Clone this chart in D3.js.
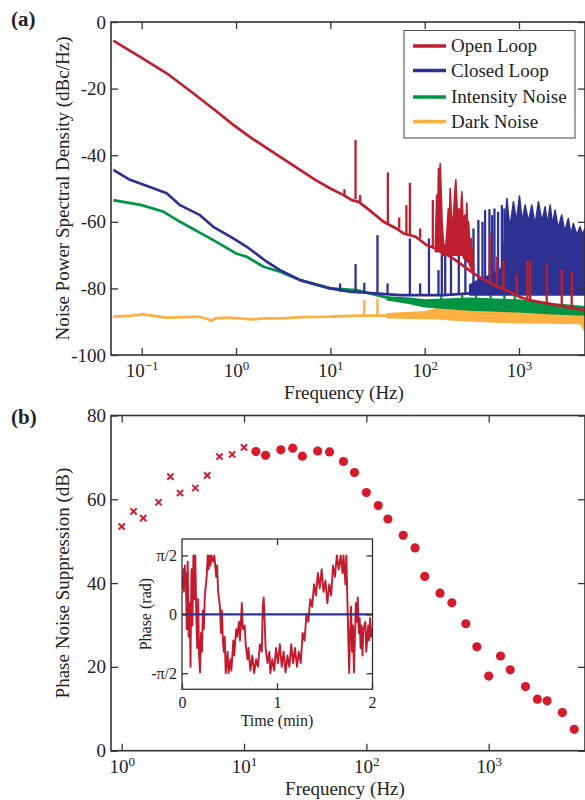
<!DOCTYPE html>
<html><head><meta charset="utf-8">
<script src="https://cdn.jsdelivr.net/npm/d3@7"></script>
<style>
html,body{margin:0;padding:0;background:#fff;}
svg{display:block;font-family:"Liberation Serif","Times New Roman",serif;}
</style></head><body>
<svg id="fig" width="585" height="800"></svg>
<script>
// ---------- (a) noise power spectral density, dBc/Hz ----------
// smooth traces: [frequency Hz, dB]
const openLoopBase = [[0.05,-5.6],[0.1,-10.8],[0.184,-15.4],[0.352,-21.4],[0.6,-26.5],[0.936,-30.9],[1.4,-34.5],[2.12,-37.9],[3.2,-41.2],[4.77,-44.4],[7,-47.5],[10,-50],[13.8,-52],[16.9,-53.5],[20,-54],[24.4,-55.9],[36.6,-60],[50,-62],[59.7,-63.5],[80,-64.5],[105,-67],[130,-68],[200,-71],[330,-75.5],[400,-77],[500,-78.5],[600,-79.5],[800,-81],[1000,-82.5],[1300,-83.5],[1600,-84],[2000,-84.5],[3000,-85.5],[5000,-86.5]];
// dense regions: [frequency Hz, lower dB, upper dB]
const openLoopBand = [[130,-69,-66],[134,-69,-52],[137,-69,-62],[140,-69,-44],[143,-69,-50],[146,-69,-42.5],[150,-69,-52],[153,-70,-60],[158,-70,-66],[165,-70,-69],[172,-70,-63],[178,-70,-56],[183,-70,-60],[186,-70,-50],[192,-70,-58],[198,-70,-62],[205,-70,-55],[210,-70,-50],[214,-70,-47.4],[220,-70,-55],[226,-70,-60],[232,-70,-56],[240,-70,-60],[245,-70,-53],[248,-70,-51],[254,-70,-58],[260,-71,-62],[266,-71,-58],[272,-71,-62],[280,-72,-54.4],[286,-72,-62],[292,-72,-60],[300,-73,-66],[310,-74,-65],[320,-74.5,-70],[330,-75.5,-73]];
// narrow lines: [frequency Hz, floor dB, peak dB]
const openLoopSpikes = [[14.1,-52.2,-50.2],[18.5,-53.2,-35.4],[20.7,-54,-52],[40.7,-60.5,-45.2],[53.7,-62,-58.7],[64,-63.8,-55],[69.7,-64,-48.3],[89.6,-65,-62],[122,-67.5,-53.5],[494,-78.5,-63.4],[582,-79,-70.5],[684,-80,-71.5],[948,-82,-75.5],[1228,-83,-72],[1312,-83.5,-71.5],[1968,-84.5,-72.5],[2837,-85.5,-74.5],[3620,-86,-75]];

const closedLoopBase = [[0.05,-44.4],[0.0751,-47.4],[0.12,-49.5],[0.184,-51.4],[0.255,-55],[0.415,-58],[0.574,-61.5],[0.936,-65],[1.3,-67.5],[2.12,-72],[2.93,-74.5],[4.77,-77.5],[9.93,-80],[16,-81],[30,-81.5],[55,-82],[100,-82],[160,-82],[300,-81.5]];
const closedLoopBand = [[300,-82,-79],[400,-82,-77],[500,-82,-76],[650,-82,-74],[700,-82,-66],[743,-82,-53],[800,-82,-62],[873,-82,-54],[940,-82,-60],[1011,-82,-52.3],[1080,-82,-60],[1161,-82,-55],[1260,-82,-60],[1367,-82,-55],[1480,-82,-61],[1607,-82,-54],[1750,-82,-60],[1892,-82,-55.5],[2000,-82,-61],[2138,-82,-55],[2270,-82,-61],[2412,-82,-56.5],[2600,-82,-62],[2837,-82,-58],[3050,-82,-63],[3334,-82,-59],[3550,-82,-64],[3767,-82,-60.5],[4100,-82,-64],[4437,-82,-61.5],[4700,-82,-64],[5000,-82,-62]];
const closedLoopSpikes = [[12.7,-81,-78.5],[18.5,-81,-72.7],[22.9,-81.5,-78.3],[31.6,-81.5,-64],[40.4,-81.5,-78.5],[69.7,-82,-65],[89.6,-82,-78.5],[111,-82,-65],[140,-82,-74.5],[152,-82,-61.5],[165,-82,-68.5],[190,-82,-66],[230,-82,-67],[270,-82,-64],[329,-79,-62],[371,-78,-59.5],[410,-78,-60],[437,-77,-56.5],[486,-77,-56.2],[520,-77,-58],[549,-76,-56],[600,-76,-57],[658,-75,-55],[700,-75,-56]];

const intensityBase = [[0.05,-53.5],[0.1,-55],[0.171,-57],[0.255,-60],[0.574,-65.5],[1.0,-69.5],[1.3,-70.5],[1.96,-73.5],[2.93,-75],[4.77,-77.5],[9.93,-80],[19,-80.5],[43,-83],[100,-84.5],[300,-85],[1000,-85.5],[2000,-86],[5000,-87]];
const intensityBand = [[40,-83.4,-82.6],[70,-84.5,-83],[100,-85.5,-83.5],[300,-86.5,-83],[1000,-87,-83.5],[2000,-87.5,-84.5],[5000,-88,-85.5]];
const intensitySpikes = [[150,-84.5,-82],[250,-84.5,-82],[350,-85,-81.5],[500,-85,-81.5],[700,-85,-82],[900,-85,-81]];

const darkBase = [[0.05,-88.5],[0.08,-88.2],[0.1,-87.8],[0.13,-88.2],[0.18,-88.8],[0.3,-88.6],[0.4,-88.5],[0.5,-89.2],[0.55,-89.8],[0.6,-89.0],[0.8,-88.8],[1,-88.9],[1.5,-89.3],[2,-89.0],[3,-89.0],[5,-88.6],[10,-88.5],[20,-88.2],[40,-88.2],[80,-88],[200,-87.8],[1000,-88],[4500,-88.5],[4900,-91]];
const darkBand = [[40,-88.8,-87.6],[100,-89,-87],[130,-89,-86.2],[200,-89.5,-85.8],[500,-90,-85.8],[1000,-90.3,-86.2],[2000,-90.4,-86.6],[4500,-90.5,-87],[4900,-92.5,-87]];
const darkSpikes = [[22.9,-88.2,-83.5],[31.6,-88.2,-83],[150,-87,-84],[201,-87,-84],[250,-87,-84.5],[371,-87,-84],[494,-87,-84],[603,-87,-84.5],[805,-87,-84],[986,-87,-84.5]];

const legendLabels = ["Open Loop","Closed Loop","Intensity Noise","Dark Noise"];
const psdXTicks = [0.1,1,10,100,1000];
const psdYTicks = [0,-20,-40,-60,-80,-100];

// ---------- (b) phase noise suppression, dB ----------
const crossFreq = [1,1.25,1.5,2,2.5,3,4,5,6.3,8,10];
const crossDb   = [53.5,57.1,55.5,59.3,65.4,61.5,62.7,65.7,70.2,70.7,72.4];
const circleFreq = [12.5,15,20,25,30,40,50,65,80,100,125,150,200,250,300,400,500,650,800,1000,1250,1500,2000,2500,3000,4000,5000];
const circleDb   = [71.4,70.5,71.8,72.2,70.3,71.5,71.3,69.0,66.4,61.6,58.5,55.3,51.4,48.4,41.6,37.6,35.3,30.3,24.8,17.8,22.6,19.3,15.3,12.3,11.9,9.1,5.1];
const suppXTicks = [1,10,100,1000];
const suppYTicks = [0,20,40,60,80];

// inset: phase (rad) vs time (min)
const freePhase = [[0,1.0],[0.01,0.7],[0.015,1.2],[0.02,0.6],[0.03,1.3],[0.035,0.8],[0.04,1.1],[0.05,-0.4],[0.055,0.9],[0.06,1.4],[0.07,-0.6],[0.08,0.3],[0.09,-1.4],[0.095,0.2],[0.1,1.2],[0.11,-0.3],[0.12,1.57],[0.13,0.4],[0.14,1.57],[0.15,0.0],[0.16,-0.9],[0.17,0.4],[0.18,-1.1],[0.19,-1.55],[0.2,-0.5],[0.21,-1.0],[0.22,0.1],[0.23,-0.4],[0.24,0.5],[0.26,1.0],[0.27,1.57],[0.28,1.2],[0.29,1.57],[0.3,1.3],[0.31,1.57],[0.33,1.4],[0.34,1.57],[0.36,1.0],[0.37,1.3],[0.38,0.6],[0.4,0.2],[0.41,-0.5],[0.42,0.1],[0.43,-0.7],[0.44,-1.0],[0.45,-0.6],[0.46,-1.57],[0.48,-1.0],[0.49,-1.57],[0.51,-1.2],[0.52,-1.5],[0.54,-0.7],[0.55,-1.1],[0.57,-0.4],[0.58,-0.6],[0.6,-0.2],[0.61,-0.7],[0.63,0.3],[0.64,-0.4],[0.66,-0.3],[0.67,-0.8],[0.69,-1.2],[0.7,-0.9],[0.72,-1.5],[0.74,-1.1],[0.76,-1.57],[0.78,-1.2],[0.8,-1.4],[0.82,-0.8],[0.84,-1.0],[0.85,0.2],[0.86,0.45],[0.87,-0.2],[0.88,-0.9],[0.9,-1.3],[0.92,-1.0],[0.93,-1.57],[0.95,-1.2],[0.97,-1.5],[0.99,-0.9],[1.01,-1.3],[1.03,-0.8],[1.05,-1.4],[1.07,-1.0],[1.09,-1.55],[1.11,-1.1],[1.13,-1.4],[1.15,-0.8],[1.17,-1.3],[1.19,-0.9],[1.21,-1.4],[1.23,-1.0],[1.25,-1.3],[1.27,-0.5],[1.29,-0.7],[1.31,0.0],[1.33,-0.2],[1.35,0.4],[1.37,0.2],[1.39,0.8],[1.41,0.5],[1.43,1.1],[1.45,0.7],[1.47,1.2],[1.49,0.6],[1.51,0.9],[1.53,0.3],[1.55,0.8],[1.57,0.5],[1.59,1.3],[1.61,1.0],[1.63,1.57],[1.65,1.2],[1.67,1.57],[1.69,1.1],[1.7,1.57],[1.72,0.8],[1.73,1.57],[1.74,0.5],[1.75,-0.6],[1.76,-1.57],[1.77,-0.4],[1.78,0.2],[1.79,-1.0],[1.8,-0.3],[1.81,-1.55],[1.82,-0.6],[1.83,0.3],[1.84,-0.2],[1.85,0.45],[1.86,-0.5],[1.87,-0.1],[1.88,-0.9],[1.89,-0.3],[1.9,-1.1],[1.91,-0.4],[1.93,-0.2],[1.94,-1.0],[1.96,-0.3],[1.97,-0.7],[1.98,-0.1],[1.99,-0.6],[2.0,-0.35]];
const lockedPhase = [[0,0],[2,0]];
const insetXTicks = [0,1,2];
const insetYTicks = [-Math.PI/2,0,Math.PI/2];
const insetYLabels = ["-\u03c0/2","0","\u03c0/2"];

// ---------- styling ----------
const C = {open:"#be1e2d", closed:"#2e3192", intensity:"#009444", dark:"#fbb040", pts:"#d51a2c", axis:"#333"};
const FONT = 19;
const SERIF = "Liberation Serif, Times New Roman, serif";

const svg = d3.select("#fig");
svg.append("rect").attr("width",585).attr("height",800).attr("fill","#fff");
const defs = svg.append("defs");

function clipRect(id, b){
  defs.append("clipPath").attr("id",id).append("rect")
    .attr("x",b.left).attr("y",b.top).attr("width",b.right-b.left).attr("height",b.bottom-b.top);
}
function styleAxis(g, size){
  g.attr("font-family",SERIF).attr("font-size",size||FONT);
  g.select(".domain").remove();
  g.selectAll(".tick line").attr("stroke",C.axis).attr("stroke-width",1.3);
  g.selectAll(".tick text").attr("font-size",size||FONT).attr("fill","#222");
}
function powerLabels(g){
  g.selectAll(".tick text").each(function(d){
    const e = Math.round(Math.log10(d));
    const t = d3.select(this);
    t.text(null);
    t.append("tspan").text("10");
    t.append("tspan").attr("dy","-0.55em").attr("font-size",13).text(e<0 ? "\u2212"+(-e) : String(e));
  });
}
function frame(b){
  svg.append("rect").attr("x",b.left).attr("y",b.top).attr("width",b.right-b.left).attr("height",b.bottom-b.top)
    .attr("fill","none").attr("stroke",C.axis).attr("stroke-width",1.6);
}

// ================= panel (a) =================
const A = {left:111,right:585,top:22,bottom:355};
const xA = d3.scaleLog().domain([0.1,1000]).range([141.7,519]);
const yA = d3.scaleLinear().domain([-100,0]).range([A.bottom,A.top]);
clipRect("clipA",A);
const gA = svg.append("g").attr("clip-path","url(#clipA)");

function drawTrace(g, x, y, base, band, spikes, color){
  const line = d3.line().x(d=>x(d[0])).y(d=>y(d[1]));
  g.append("path").datum(base).attr("d",line).attr("fill","none")
    .attr("stroke",color).attr("stroke-width",2.7).attr("stroke-linejoin","round");
  if(band){
    const area = d3.area().x(d=>x(d[0])).y0(d=>y(d[1])).y1(d=>y(d[2]));
    g.append("path").datum(band).attr("d",area).attr("fill",color)
      .attr("stroke",color).attr("stroke-width",1.6).attr("stroke-linejoin","round");
  }
  g.selectAll(null).data(spikes).join("line")
    .attr("x1",d=>x(d[0])).attr("x2",d=>x(d[0]))
    .attr("y1",d=>y(d[1])).attr("y2",d=>y(d[2]))
    .attr("stroke",color).attr("stroke-width",2.3);
}
drawTrace(gA,xA,yA,darkBase,darkBand,darkSpikes,C.dark);
drawTrace(gA,xA,yA,intensityBase,intensityBand,intensitySpikes,C.intensity);
drawTrace(gA,xA,yA,closedLoopBase,closedLoopBand,closedLoopSpikes,C.closed);
drawTrace(gA,xA,yA,openLoopBase,openLoopBand,openLoopSpikes,C.open);

frame(A);
svg.append("g").attr("transform",`translate(0,${A.bottom})`)
  .call(d3.axisBottom(xA).tickValues(psdXTicks).tickSize(-7).tickPadding(9))
  .call(styleAxis).call(powerLabels);
svg.append("g").attr("transform",`translate(0,${A.top})`)
  .call(d3.axisTop(xA).tickValues(psdXTicks).tickSize(-7).tickFormat(""))
  .call(styleAxis);
svg.append("g").attr("transform",`translate(${A.left},0)`)
  .call(d3.axisLeft(yA).tickValues(psdYTicks).tickSize(-7).tickPadding(5).tickFormat(d=>String(d)))
  .call(styleAxis);
svg.append("g").attr("transform",`translate(${A.right},0)`)
  .call(d3.axisRight(yA).tickValues(psdYTicks).tickSize(-7).tickFormat(""))
  .call(styleAxis);

svg.append("text").attr("x",344).attr("y",399).attr("text-anchor","middle")
  .attr("font-size",FONT).attr("fill","#222").text("Frequency (Hz)");
svg.append("text").attr("transform",`translate(62,${(A.top+A.bottom)/2}) rotate(-90)`)
  .attr("text-anchor","middle").attr("dominant-baseline","central")
  .attr("font-size",FONT).attr("fill","#222").text("Noise Power Spectral Density (dBc/Hz)");
svg.append("text").attr("x",11).attr("y",26).attr("font-size",21).attr("font-weight","bold")
  .attr("fill","#222").text("(a)");

// legend
const legColors = [C.open,C.closed,C.intensity,C.dark];
const legY = [46,70.5,97,121.5];
svg.append("rect").attr("x",404).attr("y",30.5).attr("width",171).attr("height",107.5)
  .attr("fill","#fff").attr("stroke","#555").attr("stroke-width",1.1);
legendLabels.forEach((lab,i)=>{
  svg.append("line").attr("x1",413).attr("x2",446).attr("y1",legY[i]).attr("y2",legY[i])
    .attr("stroke",legColors[i]).attr("stroke-width",3.5);
  svg.append("text").attr("x",451).attr("y",legY[i]+6).attr("font-size",FONT)
    .attr("fill","#222").text(lab);
});

// ================= panel (b) =================
const B = {left:111,right:585,top:415.5,bottom:750.7};
const xB = d3.scaleLog().domain([1,1000]).range([121.7,488.7]);
const yB = d3.scaleLinear().domain([0,80]).range([B.bottom,B.top]);

const crosses = crossFreq.map((f,i)=>({f, v:crossDb[i]}));
const circles = circleFreq.map((f,i)=>({f, v:circleDb[i]}));
const gB = svg.append("g");
const cs = 3.1;
gB.selectAll("path.cross").data(crosses).join("path").attr("class","cross")
  .attr("d",d=>{const cx=xB(d.f), cy=yB(d.v);
    return `M${cx-cs},${cy-cs}L${cx+cs},${cy+cs}M${cx-cs},${cy+cs}L${cx+cs},${cy-cs}`;})
  .attr("stroke",C.pts).attr("stroke-width",2).attr("fill","none");
gB.selectAll("circle").data(circles).join("circle")
  .attr("cx",d=>xB(d.f)).attr("cy",d=>yB(d.v)).attr("r",4.6).attr("fill",C.pts);

frame(B);
svg.append("g").attr("transform",`translate(0,${B.bottom})`)
  .call(d3.axisBottom(xB).tickValues(suppXTicks).tickSize(-7).tickPadding(9))
  .call(styleAxis).call(powerLabels);
svg.append("g").attr("transform",`translate(0,${B.top})`)
  .call(d3.axisTop(xB).tickValues(suppXTicks).tickSize(-7).tickFormat(""))
  .call(styleAxis);
svg.append("g").attr("transform",`translate(${B.left},0)`)
  .call(d3.axisLeft(yB).tickValues(suppYTicks).tickSize(-7).tickPadding(5).tickFormat(d=>String(d)))
  .call(styleAxis);
svg.append("g").attr("transform",`translate(${B.right},0)`)
  .call(d3.axisRight(yB).tickValues(suppYTicks).tickSize(-7).tickFormat(""))
  .call(styleAxis);

svg.append("text").attr("x",345).attr("y",795).attr("text-anchor","middle")
  .attr("font-size",FONT).attr("fill","#222").text("Frequency (Hz)");
svg.append("text").attr("transform",`translate(62,${(B.top+B.bottom)/2}) rotate(-90)`)
  .attr("text-anchor","middle").attr("dominant-baseline","central")
  .attr("font-size",FONT).attr("fill","#222").text("Phase Noise Suppression (dB)");
svg.append("text").attr("x",11).attr("y",424).attr("font-size",21).attr("font-weight","bold")
  .attr("fill","#222").text("(b)");

// ---------- inset ----------
const I = {left:182,right:372.5,top:539,bottom:689.3};
const tI = d3.scaleLinear().domain([0,2]).range([182,372]);
const pI = d3.scaleLinear().domain([-2,2]).range([689.3,539.3]);
svg.append("rect").attr("x",I.left).attr("y",I.top).attr("width",I.right-I.left).attr("height",I.bottom-I.top)
  .attr("fill","#fff");
clipRect("clipI",I);
const gI = svg.append("g").attr("clip-path","url(#clipI)");
const phLine = d3.line().x(d=>tI(d[0])).y(d=>pI(d[1]));
gI.append("path").datum(freePhase).attr("d",phLine).attr("fill","none")
  .attr("stroke","#c41a2e").attr("stroke-width",1.9).attr("stroke-linejoin","round");
gI.append("path").datum(lockedPhase).attr("d",phLine).attr("fill","none")
  .attr("stroke",C.closed).attr("stroke-width",2.2);

svg.append("rect").attr("x",I.left).attr("y",I.top).attr("width",I.right-I.left).attr("height",I.bottom-I.top)
  .attr("fill","none").attr("stroke",C.axis).attr("stroke-width",1.3);
svg.append("g").attr("transform",`translate(0,${I.bottom})`)
  .call(d3.axisBottom(tI).tickValues(insetXTicks).tickSize(-6).tickPadding(7).tickFormat(d=>String(d)))
  .call(g=>styleAxis(g,16));
svg.append("g").attr("transform",`translate(0,${I.top})`)
  .call(d3.axisTop(tI).tickValues([1]).tickSize(-6).tickFormat(""))
  .call(g=>styleAxis(g,16));
svg.append("g").attr("transform",`translate(${I.left},0)`)
  .call(d3.axisLeft(pI).tickValues(insetYTicks).tickSize(-6).tickPadding(5).tickFormat((d,i)=>insetYLabels[i]))
  .call(g=>styleAxis(g,16));
svg.append("g").attr("transform",`translate(${I.right},0)`)
  .call(d3.axisRight(pI).tickValues(insetYTicks).tickSize(-6).tickFormat(""))
  .call(g=>styleAxis(g,16));
svg.append("text").attr("x",277).attr("y",726).attr("text-anchor","middle")
  .attr("font-size",16).attr("fill","#222").text("Time (min)");
svg.append("text").attr("transform",`translate(145,${(I.top+I.bottom)/2}) rotate(-90)`)
  .attr("text-anchor","middle").attr("dominant-baseline","central")
  .attr("font-size",16).attr("fill","#222").text("Phase (rad)");
</script>
</body></html>
